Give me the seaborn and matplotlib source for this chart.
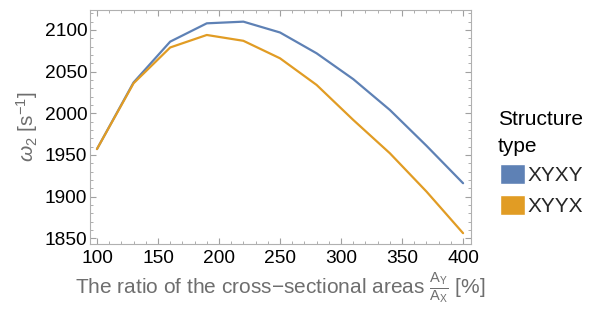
import matplotlib
matplotlib.use("Agg")
import matplotlib.pyplot as plt
import seaborn as sns
import pandas as pd
from matplotlib.patches import Patch
from matplotlib.ticker import MultipleLocator

ratio = [100, 130, 160, 190, 220, 250, 280, 310, 340, 370, 400]
xyxy = [1957, 2037, 2086, 2108, 2110, 2097, 2072, 2041, 2004, 1961, 1916]
xyyx = [1957, 2036, 2079, 2094, 2087, 2066, 2034, 1992, 1952, 1906, 1856]
series = ["XYXY", "XYYX"]
colors = ["#5E81B5", "#E19C24"]

df = pd.DataFrame({
    "ratio": ratio * 2,
    "omega": xyxy + xyyx,
    "type": [series[0]] * len(ratio) + [series[1]] * len(ratio),
})

sns.set_theme(style="white")
plt.rcParams["font.family"] = ["Liberation Sans", "DejaVu Sans"]
plt.rcParams["mathtext.fontset"] = "custom"
plt.rcParams["mathtext.rm"] = "Liberation Sans"
plt.rcParams["mathtext.it"] = "Liberation Sans:italic"

W, H = 592, 311
fig = plt.figure(figsize=(W / 100, H / 100), dpi=100)
# axes frame: x 90..471, y 10..244 (pixels from top)
ax = fig.add_axes([90 / W, 1 - 244 / H, (471 - 90) / W, (244 - 10) / H])
sns.lineplot(data=df, x="ratio", y="omega", hue="type", palette=colors,
             linewidth=1.6, ax=ax, legend=False)

ax.set_xlim(94.3, 406.5)
ax.set_ylim(1843, 2124)
ax.xaxis.set_major_locator(MultipleLocator(50))
ax.xaxis.set_minor_locator(MultipleLocator(10))
ax.yaxis.set_major_locator(MultipleLocator(50))
ax.yaxis.set_minor_locator(MultipleLocator(10))
ax.tick_params(which="both", direction="in", top=True, right=True,
               bottom=True, left=True, color="#a0a0a0", labelsize=13.8,
               labelcolor="black", pad=3)
ax.tick_params(which="major", length=4, width=0.8)
ax.tick_params(which="minor", length=2, width=0.6)
ax.tick_params(axis="x", which="both", labeltop=False, pad=4)
ax.tick_params(axis="y", which="both", labelright=False, pad=2)
for s in ax.spines.values():
    s.set_color("#b0b0b0")
    s.set_linewidth(0.8)

ax.set_xlabel(r"The ratio of the cross$-$sectional areas $\frac{\mathregular{A_Y}}{\mathregular{A_X}}$ [%]",
              fontsize=15, color="#6e6e6e", labelpad=3)
ax.set_ylabel(r"$\omega_2$ [s$^{-1}$]", fontsize=15, color="#6e6e6e", labelpad=3)

fig.text(498 / W, 1 - 125 / H, "Structure", fontsize=15, color="black")
fig.text(498 / W, 1 - 152 / H, "type", fontsize=15, color="black")
handles = [Patch(facecolor=c, edgecolor="white") for c in colors]
leg = fig.legend(handles, series, loc="upper left",
                 bbox_to_anchor=(496 / W, 1 - 160 / H), frameon=False, fontsize=15,
                 handlelength=1.2, handleheight=1.1,
                 handletextpad=0.12, labelspacing=0.45, borderaxespad=0,
                 borderpad=0.2)

fig.savefig("out.png", dpi=100)
